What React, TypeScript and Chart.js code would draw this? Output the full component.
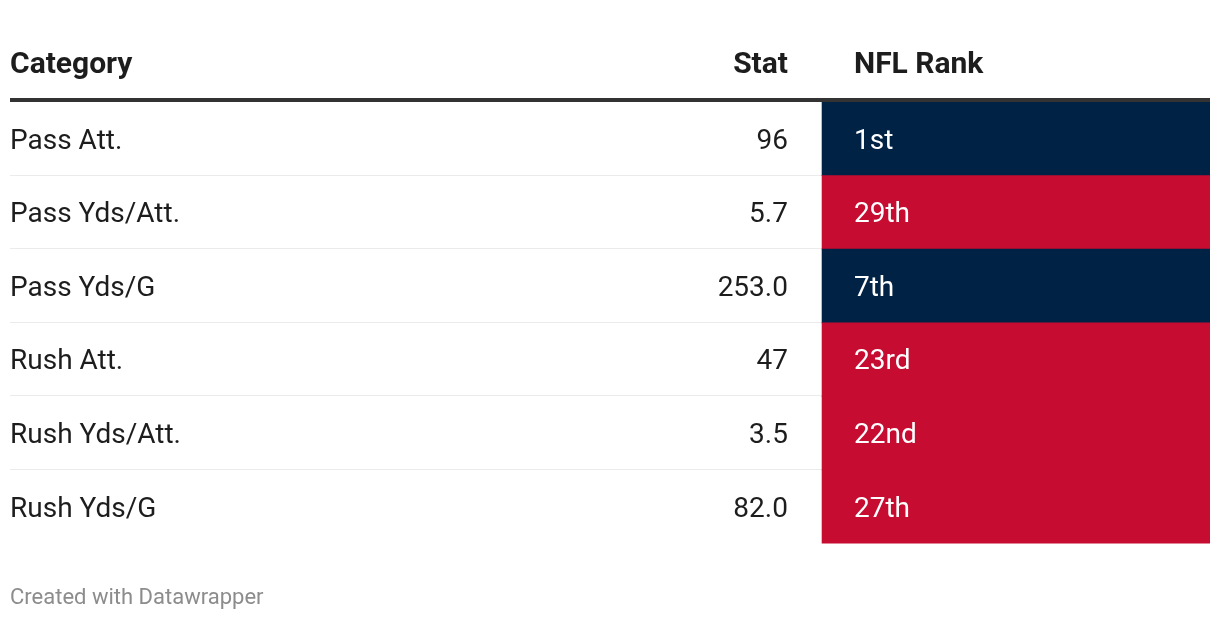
import React, { useEffect, useRef } from "react";
import { Chart, registerables } from "chart.js";

Chart.register(...registerables);

const categories = ["Pass Att.", "Pass Yds/Att.", "Pass Yds/G", "Rush Att.", "Rush Yds/Att.", "Rush Yds/G"];
const stats = ["96", "5.7", "253.0", "47", "3.5", "82.0"];
const ranks = [1, 29, 7, 23, 22, 27];
const rankLabels = ["1st", "29th", "7th", "23rd", "22nd", "27th"];
const headers = ["Category", "Stat", "NFL Rank"];
const footer = "Created with Datawrapper";

const NAVY = "#002244";
const RED = "#C60C30";
const TEXT = "#1d1d1d";
const FONT = "Roboto, 'Noto Sans', sans-serif";

// column layout in table-width fractions
const RANK_START = 0.6767;
const STAT_RIGHT = 0.6483;
const RANK_TEXT = 0.7033;

const tablePlugin = {
  id: "tablePlugin",
  beforeDatasetsDraw(chart: any) {
    const { ctx, chartArea, scales } = chart;
    const y = scales.y;
    ctx.save();
    ctx.strokeStyle = "#ebebeb";
    ctx.lineWidth = 1;
    for (let i = 0; i < categories.length - 1; i++) {
      const yb = Math.round((y.getPixelForValue(i) + y.getPixelForValue(i + 1)) / 2) - 0.5;
      ctx.beginPath();
      ctx.moveTo(chartArea.left, yb);
      ctx.lineTo(chartArea.right, yb);
      ctx.stroke();
    }
    ctx.restore();
  },
  afterDatasetsDraw(chart: any) {
    const { ctx, chartArea, scales } = chart;
    const x = scales.x;
    const y = scales.y;
    ctx.save();
    // header
    ctx.font = `bold 30px ${FONT}`;
    ctx.fillStyle = TEXT;
    ctx.textBaseline = "alphabetic";
    const hy = chartArea.top - 28.7;
    ctx.textAlign = "left";
    ctx.fillText(headers[0], x.getPixelForValue(0), hy);
    ctx.textAlign = "right";
    ctx.fillText(headers[1], x.getPixelForValue(STAT_RIGHT), hy);
    ctx.textAlign = "left";
    ctx.fillText(headers[2], x.getPixelForValue(RANK_TEXT), hy);
    // thick rule
    ctx.fillStyle = "#333333";
    ctx.fillRect(chartArea.left, chartArea.top - 4, chartArea.right - chartArea.left, 4);
    // rows
    ctx.font = `28px ${FONT}`;
    categories.forEach((c, i) => {
      const cy = y.getPixelForValue(i) + 9.8;
      ctx.fillStyle = TEXT;
      ctx.textAlign = "left";
      ctx.fillText(c, x.getPixelForValue(0), cy);
      ctx.textAlign = "right";
      ctx.fillText(stats[i], x.getPixelForValue(STAT_RIGHT), cy);
      ctx.fillStyle = "#ffffff";
      ctx.textAlign = "left";
      ctx.fillText(rankLabels[i], x.getPixelForValue(RANK_TEXT), cy);
    });
    // footer
    ctx.font = `22px ${FONT}`;
    ctx.fillStyle = "#8c8c8c";
    ctx.textAlign = "left";
    ctx.fillText(footer, x.getPixelForValue(0), chartArea.bottom + 60);
    ctx.restore();
  },
};

export default function App() {
  const ref = useRef<HTMLCanvasElement | null>(null);
  useEffect(() => {
    if (!ref.current) return;
    const chart = new Chart(ref.current, {
      type: "bar",
      data: {
        labels: categories,
        datasets: [
          {
            data: ranks.map(() => [RANK_START, 1]) as any,
            backgroundColor: ranks.map((r) => (r <= 10 ? NAVY : RED)),
            borderWidth: 0,
            barPercentage: 1,
            categoryPercentage: 1,
          },
        ],
      },
      options: {
        indexAxis: "y",
        responsive: false,
        animation: false,
        layout: { padding: { top: 102, bottom: 76.4, left: 10, right: 10 } },
        scales: {
          x: { type: "linear", min: 0, max: 1, display: false, grid: { display: false } },
          y: { type: "category", display: false, grid: { display: false } },
        },
        plugins: { legend: { display: false }, tooltip: { enabled: false } },
      },
      plugins: [tablePlugin],
    });
    return () => chart.destroy();
  }, []);
  return (
    <div style={{ position: "fixed", left: 0, top: 0, width: 1220, height: 620, background: "#fff" }}>
      <canvas ref={ref} width={1220} height={620} />
    </div>
  );
}
